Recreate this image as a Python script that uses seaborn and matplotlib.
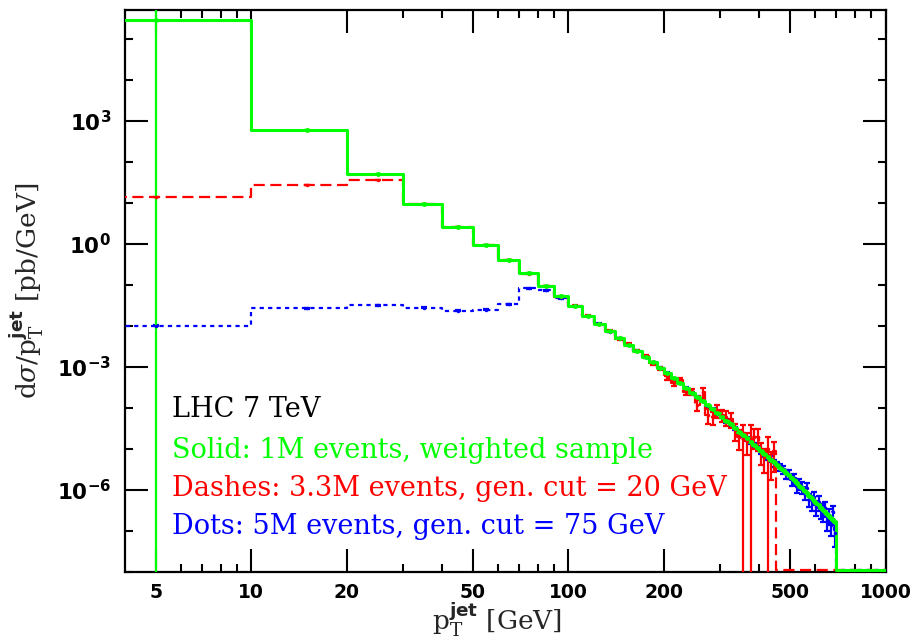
import numpy as np
import matplotlib
matplotlib.use("Agg")
import matplotlib.pyplot as plt
import matplotlib.ticker as mticker
import seaborn as sns

# --- data: jet pT spectrum, 10 GeV bins from 0 GeV, log10(dsigma/dpT) ---
bin_width = 10
pt_max = 1000

# solid: 1M events, weighted sample (bins 0..700 GeV)
green_log = [
    5.46, 2.78, 1.71, 0.98, 0.42, -0.02, -0.39, -0.72, -1.02, -1.28,
    -1.51, -1.75, -1.95, -2.13, -2.30, -2.46, -2.61, -2.75, -2.89, -3.02,
    -3.15, -3.27, -3.40, -3.51, -3.63, -3.73, -3.84, -3.94, -4.03, -4.13,
    -4.22, -4.31, -4.40, -4.49, -4.58, -4.66, -4.74, -4.82, -4.90, -4.98,
    -5.05, -5.12, -5.19, -5.26, -5.33, -5.39, -5.46, -5.52, -5.58, -5.64,
    -5.70, -5.77, -5.84, -5.90, -5.96, -6.02, -6.08, -6.14, -6.20, -6.26,
    -6.32, -6.37, -6.43, -6.48, -6.53, -6.58, -6.64, -6.69, -6.74, -6.79,
]
# relative errors, only the first bin is visible, others negligible
green_relerr = [3.0]

# dashes: 3.3M events, gen. cut = 20 GeV (bins 0..450 GeV, empty above)
red_log = [
    1.15, 1.44, 1.56, 0.97, 0.41, -0.03, -0.40, -0.73, -1.03, -1.29,
    -1.51, -1.75, -1.96, -2.12, -2.31, -2.45, -2.62, -2.74, -2.91, -3.03,
    -3.27, -3.40, -3.33, -3.62, -3.60, -3.92, -3.62, -4.18, -4.22, -4.05,
    -4.17, -4.22, -4.28, -4.55, -4.72, -4.75, -4.80, -4.75, -4.70, -4.70,
    -5.05, -5.20, -5.00, -5.30, -5.05,
]
red_relerr = [
    0.01, 0.01, 0.01, 0.01, 0.01, 0.01, 0.01, 0.02, 0.02, 0.02,
    0.03, 0.03, 0.04, 0.04, 0.05, 0.05, 0.06, 0.07, 0.08, 0.09,
    0.12, 0.12, 0.12, 0.13, 0.18, 0.30, 0.30, 0.40, 0.35, 0.35,
    0.33, 0.40, 0.40, 0.45, 0.50, 1.20, 0.55, 1.20, 0.50, 0.55,
    0.55, 0.60, 1.00, 0.65, 0.70,
]

# dots: 5M events, gen. cut = 75 GeV (bins 0..700 GeV)
blue_log = [
    -2.00, -1.57, -1.50, -1.56, -1.63, -1.61, -1.47, -1.08, -1.13, -1.33,
    -1.52, -1.76, -1.95, -2.14, -2.30, -2.47, -2.61, -2.76, -2.89, -3.03,
    -3.15, -3.28, -3.40, -3.52, -3.63, -3.74, -3.84, -3.95, -4.03, -4.14,
    -4.22, -4.32, -4.40, -4.50, -4.60, -4.66, -4.75, -4.83, -4.90, -4.98,
    -5.05, -5.13, -5.20, -5.24, -5.35, -5.38, -5.45, -5.50, -5.62, -5.60,
    -5.75, -5.72, -5.92, -5.85, -5.93, -6.05, -5.95, -6.22, -6.30, -6.18,
    -6.42, -6.30, -6.50, -6.55, -6.45, -6.75, -6.62, -6.85, -6.55, -7.05,
]
blue_relerr = [
    0.03, 0.03, 0.03, 0.03, 0.03, 0.03, 0.03, 0.02, 0.02, 0.02,
    0.02, 0.02, 0.02, 0.03, 0.03, 0.03, 0.03, 0.03, 0.04, 0.04,
    0.04, 0.05, 0.05, 0.05, 0.06, 0.06, 0.06, 0.07, 0.07, 0.08,
    0.08, 0.09, 0.09, 0.10, 0.10, 0.11, 0.11, 0.12, 0.12, 0.13,
    0.14, 0.15, 0.15, 0.16, 0.17, 0.18, 0.20, 0.22, 0.25, 0.25,
    0.30, 0.28, 0.32, 0.30, 0.33, 0.35, 0.30, 0.35, 0.38, 0.35,
    0.40, 0.38, 0.40, 0.42, 0.40, 0.45, 0.42, 0.48, 0.45, 0.55,
]

x_ticks = [5, 10, 20, 50, 100, 200, 500, 1000]
x_minor = [6, 7, 8, 9, 30, 40, 60, 70, 80, 90, 300, 400, 600, 700, 800, 900]
y_major = [1e-6, 1e-3, 1e0, 1e3]
y_lo, y_hi = 1e-8, 5e5

# --- style ---
sns.set_theme(style="ticks")
plt.rcParams["font.family"] = ["DejaVu Serif", "DejaVu Sans"]
plt.rcParams["mathtext.fontset"] = "custom"
plt.rcParams["mathtext.rm"] = "DejaVu Serif"
plt.rcParams["mathtext.it"] = "DejaVu Serif:italic"
plt.rcParams["mathtext.bf"] = "DejaVu Sans:bold"

edges = np.arange(0, pt_max + bin_width, bin_width)
centers = edges[:-1] + bin_width / 2
# 0 can't sit on a log axis, the first bin just starts off-screen
edges_plot = np.where(edges > 0, edges, 1.0)
y_floor = y_lo * 1.12  # empty bins are drawn along the bottom frame


def padded(vals):
    out = np.zeros(len(centers))
    out[: len(vals)] = vals
    return out


def draw_hist(ax, logs, relerr, color, ls, lw, ms):
    vals = padded(10.0 ** np.array(logs))
    vals[len(logs):] = 0.0
    errs = padded(relerr) * vals
    steps = np.where(vals > 0, vals, y_floor)
    sns.lineplot(x=edges_plot, y=np.append(steps, steps[-1]), drawstyle="steps-post",
                 estimator=None, sort=False, color=color, linestyle=ls, linewidth=lw,
                 legend=False, zorder=3, ax=ax)
    m = vals > 0
    low = np.maximum(vals[m] - errs[m], y_lo * 0.5)
    ax.errorbar(centers[m], vals[m], yerr=[vals[m] - low, errs[m]], fmt="o", ms=ms,
                color=color, elinewidth=1.6, capsize=2, capthick=1.6, linestyle="none",
                zorder=3)


fig = plt.figure(figsize=(9.13, 6.39), dpi=100)
ax = fig.add_axes([0.137, 0.105, 0.833, 0.879])
ax.set_xscale("log")
ax.set_yscale("log")

draw_hist(ax, blue_log, blue_relerr, "#0000FF", (0, (1.9, 1.9)), 1.6, 1.5)
draw_hist(ax, red_log, red_relerr, "#FF0000", (0, (5, 2.5)), 1.6, 1.5)
draw_hist(ax, green_log, green_relerr, "#00FF00", "-", 2.2, 2.5)

ax.set_xlim(4, 1000)
ax.set_ylim(y_lo, y_hi)

ax.xaxis.set_major_locator(mticker.FixedLocator(x_ticks))
ax.xaxis.set_minor_locator(mticker.FixedLocator(x_minor))
ax.xaxis.set_major_formatter(mticker.FuncFormatter(lambda v, p: f"{v:g}"))
ax.xaxis.set_minor_formatter(mticker.NullFormatter())
ax.yaxis.set_major_locator(mticker.FixedLocator(y_major))
ax.yaxis.set_minor_locator(mticker.LogLocator(base=10, numticks=30))
ax.yaxis.set_major_formatter(
    mticker.FuncFormatter(lambda v, p: r"$\mathbf{10^{%d}}$" % round(np.log10(v))))
ax.yaxis.set_minor_formatter(mticker.NullFormatter())

ax.tick_params(which="both", direction="in", top=True, right=True, width=1.5, colors="black")
ax.tick_params(which="major", length=16.5, pad=8)
ax.tick_params(axis="x", which="major", labelsize=13.5)
ax.tick_params(axis="y", which="major", labelsize=15.5, pad=10)
ax.tick_params(which="minor", length=6)
for lab in ax.get_xticklabels():
    lab.set_fontfamily("DejaVu Sans")
    lab.set_fontweight("bold")
for sp in ax.spines.values():
    sp.set_linewidth(1.6)
    sp.set_color("black")

fig.text(0.544, 0.030, r"p$_{\mathrm{T}}^{\mathbf{jet}}$ [GeV]", fontsize=19,
         ha="center", va="center")
ax.set_ylabel(r"d$\sigma$/p$_{\mathrm{T}}^{\mathbf{jet}}$ [pb/GeV]", fontsize=19, labelpad=8)

notes = [
    ("LHC 7 TeV", "black", 0.290),
    ("Solid: 1M events, weighted sample", "#00FF00", 0.217),
    ("Dashes: 3.3M events, gen. cut = 20 GeV", "#FF0000", 0.149),
    ("Dots: 5M events, gen. cut = 75 GeV", "#0000FF", 0.080),
]
for txt, col, yy in notes:
    ax.text(0.062, yy, txt, color=col, fontsize=19.5, transform=ax.transAxes, va="center")

fig.savefig("out.png", dpi=100)
